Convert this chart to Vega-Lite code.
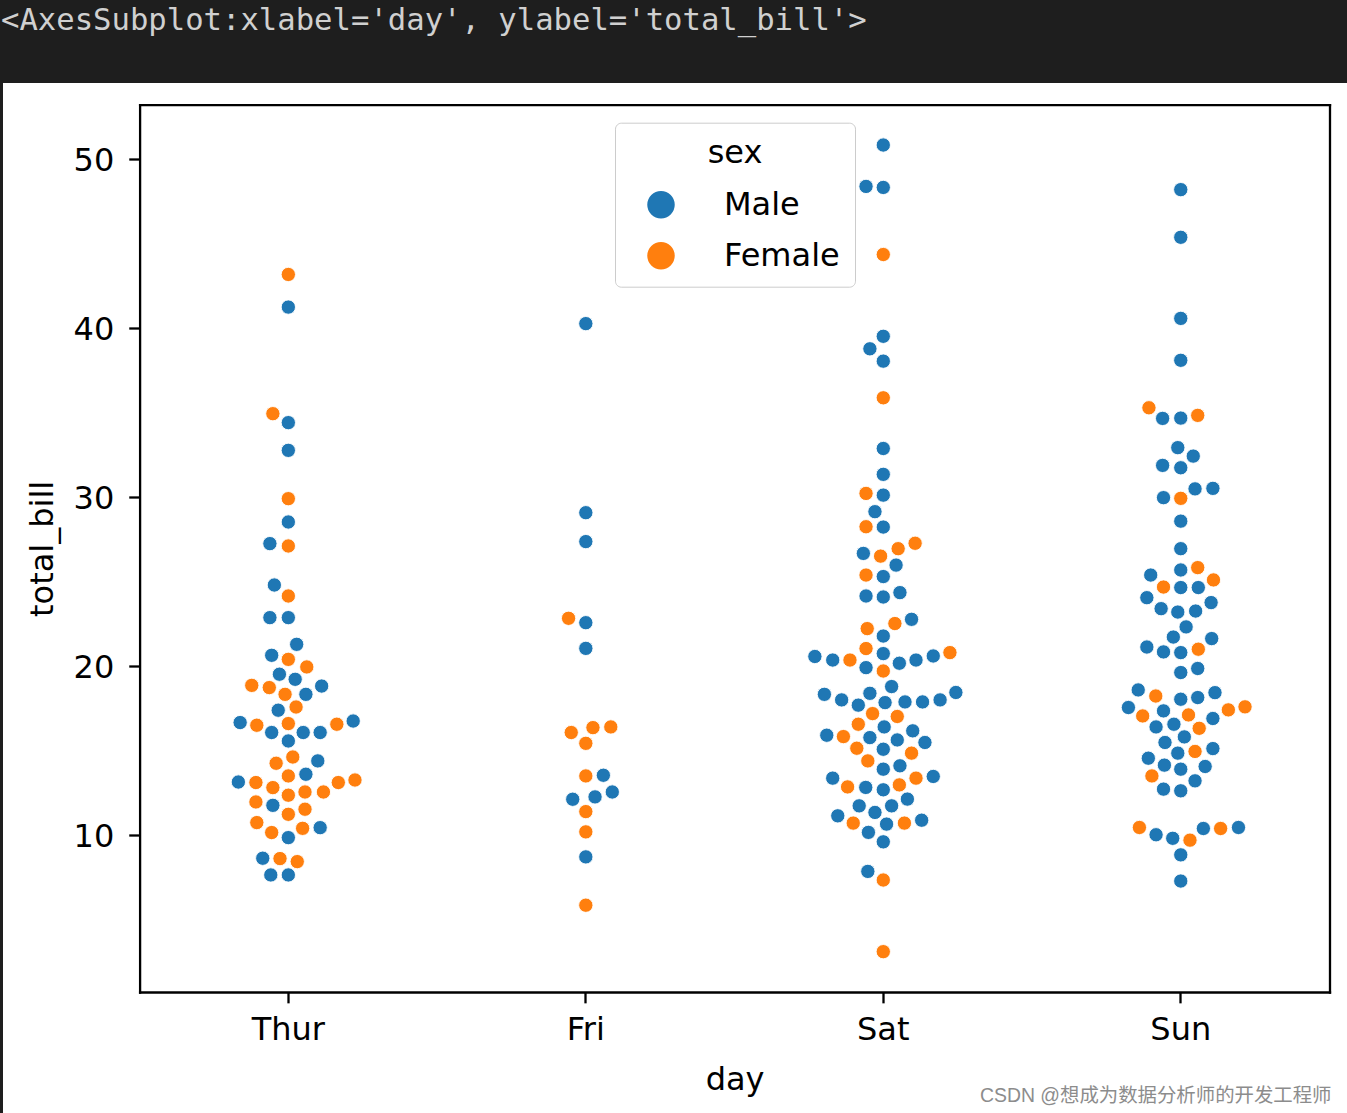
{
  "$schema": "https://vega.github.io/schema/vega-lite/v6.json",
  "width": 1344,
  "height": 1030,
  "autosize": {"type": "none"},
  "padding": {"left": 3, "top": 83, "right": 0, "bottom": 0},
  "background": "#1e1e1e",
  "view": {"fill": "white", "stroke": null},
  "config": {"font": "DejaVu Sans", "axis": {"grid": false}},
  "title": {
    "text": "<AxesSubplot:xlabel='day', ylabel='total_bill'>",
    "anchor": "start", "frame": "group", "orient": "top", "offset": 46, "dx": -2,
    "font": "DejaVu Sans Mono", "fontSize": 30.6, "fontWeight": "normal", "color": "#d0d0d0"
  },
  "data": {"values": [
    {"day":"Thur","sex":"Female","total_bill":43.15,"offset":0},
    {"day":"Thur","sex":"Male","total_bill":41.22,"offset":0},
    {"day":"Thur","sex":"Female","total_bill":34.91,"offset":-0.052},
    {"day":"Thur","sex":"Male","total_bill":34.38,"offset":0},
    {"day":"Thur","sex":"Male","total_bill":32.74,"offset":0},
    {"day":"Thur","sex":"Female","total_bill":29.88,"offset":0},
    {"day":"Thur","sex":"Male","total_bill":28.50,"offset":0},
    {"day":"Thur","sex":"Male","total_bill":27.22,"offset":-0.062},
    {"day":"Thur","sex":"Female","total_bill":27.08,"offset":0},
    {"day":"Thur","sex":"Male","total_bill":24.77,"offset":-0.047},
    {"day":"Thur","sex":"Female","total_bill":24.12,"offset":0},
    {"day":"Thur","sex":"Male","total_bill":22.84,"offset":-0.062},
    {"day":"Thur","sex":"Male","total_bill":22.84,"offset":0},
    {"day":"Thur","sex":"Male","total_bill":21.26,"offset":0.028},
    {"day":"Thur","sex":"Male","total_bill":20.61,"offset":-0.056},
    {"day":"Thur","sex":"Female","total_bill":20.37,"offset":0},
    {"day":"Thur","sex":"Female","total_bill":19.92,"offset":0.062},
    {"day":"Thur","sex":"Male","total_bill":19.49,"offset":-0.030},
    {"day":"Thur","sex":"Male","total_bill":19.19,"offset":0.023},
    {"day":"Thur","sex":"Female","total_bill":18.83,"offset":-0.123},
    {"day":"Thur","sex":"Female","total_bill":18.70,"offset":-0.064},
    {"day":"Thur","sex":"Male","total_bill":18.79,"offset":0.112},
    {"day":"Thur","sex":"Female","total_bill":18.30,"offset":-0.011},
    {"day":"Thur","sex":"Male","total_bill":18.30,"offset":0.059},
    {"day":"Thur","sex":"Female","total_bill":17.55,"offset":0.026},
    {"day":"Thur","sex":"Male","total_bill":17.36,"offset":-0.034},
    {"day":"Thur","sex":"Male","total_bill":16.63,"offset":-0.162},
    {"day":"Thur","sex":"Female","total_bill":16.47,"offset":-0.106},
    {"day":"Thur","sex":"Female","total_bill":16.57,"offset":0},
    {"day":"Thur","sex":"Female","total_bill":16.53,"offset":0.163},
    {"day":"Thur","sex":"Male","total_bill":16.72,"offset":0.218},
    {"day":"Thur","sex":"Male","total_bill":16.04,"offset":-0.056},
    {"day":"Thur","sex":"Male","total_bill":16.04,"offset":0.050},
    {"day":"Thur","sex":"Male","total_bill":16.04,"offset":0.107},
    {"day":"Thur","sex":"Male","total_bill":15.54,"offset":0},
    {"day":"Thur","sex":"Female","total_bill":14.59,"offset":0.015},
    {"day":"Thur","sex":"Female","total_bill":14.22,"offset":-0.041},
    {"day":"Thur","sex":"Male","total_bill":14.36,"offset":0.099},
    {"day":"Thur","sex":"Male","total_bill":13.57,"offset":0.059},
    {"day":"Thur","sex":"Female","total_bill":13.47,"offset":0},
    {"day":"Thur","sex":"Male","total_bill":13.11,"offset":-0.168},
    {"day":"Thur","sex":"Female","total_bill":13.08,"offset":-0.109},
    {"day":"Thur","sex":"Female","total_bill":12.78,"offset":-0.052},
    {"day":"Thur","sex":"Female","total_bill":13.08,"offset":0.168},
    {"day":"Thur","sex":"Female","total_bill":13.23,"offset":0.224},
    {"day":"Thur","sex":"Female","total_bill":12.33,"offset":0},
    {"day":"Thur","sex":"Female","total_bill":12.52,"offset":0.056},
    {"day":"Thur","sex":"Female","total_bill":12.52,"offset":0.118},
    {"day":"Thur","sex":"Female","total_bill":11.93,"offset":-0.109},
    {"day":"Thur","sex":"Male","total_bill":11.73,"offset":-0.052},
    {"day":"Thur","sex":"Female","total_bill":11.20,"offset":0},
    {"day":"Thur","sex":"Female","total_bill":11.50,"offset":0.056},
    {"day":"Thur","sex":"Female","total_bill":10.71,"offset":-0.106},
    {"day":"Thur","sex":"Female","total_bill":10.12,"offset":-0.056},
    {"day":"Thur","sex":"Male","total_bill":9.82,"offset":0},
    {"day":"Thur","sex":"Female","total_bill":10.37,"offset":0.048},
    {"day":"Thur","sex":"Male","total_bill":10.41,"offset":0.107},
    {"day":"Thur","sex":"Male","total_bill":8.60,"offset":-0.086},
    {"day":"Thur","sex":"Female","total_bill":8.58,"offset":-0.028},
    {"day":"Thur","sex":"Female","total_bill":8.40,"offset":0.030},
    {"day":"Thur","sex":"Male","total_bill":7.61,"offset":-0.059},
    {"day":"Thur","sex":"Male","total_bill":7.61,"offset":0},
    {"day":"Fri","sex":"Male","total_bill":40.24,"offset":0},
    {"day":"Fri","sex":"Male","total_bill":29.05,"offset":0},
    {"day":"Fri","sex":"Male","total_bill":27.34,"offset":0},
    {"day":"Fri","sex":"Female","total_bill":22.80,"offset":-0.058},
    {"day":"Fri","sex":"Male","total_bill":22.54,"offset":0},
    {"day":"Fri","sex":"Male","total_bill":21.02,"offset":0},
    {"day":"Fri","sex":"Female","total_bill":16.04,"offset":-0.049},
    {"day":"Fri","sex":"Female","total_bill":16.33,"offset":0.024},
    {"day":"Fri","sex":"Female","total_bill":16.37,"offset":0.084},
    {"day":"Fri","sex":"Female","total_bill":15.40,"offset":0},
    {"day":"Fri","sex":"Female","total_bill":13.47,"offset":0},
    {"day":"Fri","sex":"Male","total_bill":13.51,"offset":0.059},
    {"day":"Fri","sex":"Male","total_bill":12.52,"offset":0.089},
    {"day":"Fri","sex":"Male","total_bill":12.09,"offset":-0.044},
    {"day":"Fri","sex":"Male","total_bill":12.23,"offset":0.031},
    {"day":"Fri","sex":"Female","total_bill":11.36,"offset":0},
    {"day":"Fri","sex":"Female","total_bill":10.16,"offset":0},
    {"day":"Fri","sex":"Male","total_bill":8.68,"offset":0},
    {"day":"Fri","sex":"Female","total_bill":5.82,"offset":0},
    {"day":"Sat","sex":"Male","total_bill":50.81,"offset":0},
    {"day":"Sat","sex":"Male","total_bill":48.36,"offset":-0.058},
    {"day":"Sat","sex":"Male","total_bill":48.30,"offset":0},
    {"day":"Sat","sex":"Female","total_bill":44.33,"offset":0},
    {"day":"Sat","sex":"Male","total_bill":39.49,"offset":0},
    {"day":"Sat","sex":"Male","total_bill":38.75,"offset":-0.045},
    {"day":"Sat","sex":"Male","total_bill":38.02,"offset":0},
    {"day":"Sat","sex":"Female","total_bill":35.85,"offset":0},
    {"day":"Sat","sex":"Male","total_bill":32.85,"offset":0},
    {"day":"Sat","sex":"Male","total_bill":31.32,"offset":0},
    {"day":"Sat","sex":"Female","total_bill":30.19,"offset":-0.058},
    {"day":"Sat","sex":"Male","total_bill":30.09,"offset":0},
    {"day":"Sat","sex":"Male","total_bill":29.11,"offset":-0.028},
    {"day":"Sat","sex":"Female","total_bill":28.22,"offset":-0.058},
    {"day":"Sat","sex":"Male","total_bill":28.20,"offset":0},
    {"day":"Sat","sex":"Female","total_bill":27.24,"offset":0.107},
    {"day":"Sat","sex":"Female","total_bill":26.92,"offset":0.050},
    {"day":"Sat","sex":"Male","total_bill":26.64,"offset":-0.067},
    {"day":"Sat","sex":"Female","total_bill":26.48,"offset":-0.009},
    {"day":"Sat","sex":"Male","total_bill":25.95,"offset":0.043},
    {"day":"Sat","sex":"Female","total_bill":25.36,"offset":-0.058},
    {"day":"Sat","sex":"Male","total_bill":25.27,"offset":0},
    {"day":"Sat","sex":"Male","total_bill":24.12,"offset":-0.058},
    {"day":"Sat","sex":"Male","total_bill":24.06,"offset":0},
    {"day":"Sat","sex":"Male","total_bill":24.32,"offset":0.056},
    {"day":"Sat","sex":"Male","total_bill":22.74,"offset":0.095},
    {"day":"Sat","sex":"Female","total_bill":22.49,"offset":0.039},
    {"day":"Sat","sex":"Female","total_bill":22.19,"offset":-0.054},
    {"day":"Sat","sex":"Male","total_bill":21.75,"offset":0},
    {"day":"Sat","sex":"Female","total_bill":21.01,"offset":-0.058},
    {"day":"Sat","sex":"Male","total_bill":20.71,"offset":0},
    {"day":"Sat","sex":"Male","total_bill":20.54,"offset":-0.230},
    {"day":"Sat","sex":"Male","total_bill":20.33,"offset":-0.170},
    {"day":"Sat","sex":"Female","total_bill":20.33,"offset":-0.112},
    {"day":"Sat","sex":"Male","total_bill":20.14,"offset":0.054},
    {"day":"Sat","sex":"Male","total_bill":20.33,"offset":0.110},
    {"day":"Sat","sex":"Male","total_bill":20.57,"offset":0.168},
    {"day":"Sat","sex":"Female","total_bill":20.77,"offset":0.224},
    {"day":"Sat","sex":"Male","total_bill":19.88,"offset":-0.058},
    {"day":"Sat","sex":"Female","total_bill":19.68,"offset":0},
    {"day":"Sat","sex":"Male","total_bill":18.76,"offset":0.028},
    {"day":"Sat","sex":"Male","total_bill":18.30,"offset":-0.198},
    {"day":"Sat","sex":"Male","total_bill":17.97,"offset":-0.140},
    {"day":"Sat","sex":"Male","total_bill":18.36,"offset":-0.045},
    {"day":"Sat","sex":"Male","total_bill":17.66,"offset":-0.084},
    {"day":"Sat","sex":"Male","total_bill":17.81,"offset":0.006},
    {"day":"Sat","sex":"Male","total_bill":17.85,"offset":0.073},
    {"day":"Sat","sex":"Male","total_bill":17.85,"offset":0.132},
    {"day":"Sat","sex":"Male","total_bill":17.97,"offset":0.191},
    {"day":"Sat","sex":"Male","total_bill":18.41,"offset":0.244},
    {"day":"Sat","sex":"Female","total_bill":17.16,"offset":-0.036},
    {"day":"Sat","sex":"Female","total_bill":16.99,"offset":0.047},
    {"day":"Sat","sex":"Female","total_bill":16.53,"offset":-0.084},
    {"day":"Sat","sex":"Male","total_bill":16.37,"offset":0.003},
    {"day":"Sat","sex":"Male","total_bill":15.88,"offset":-0.190},
    {"day":"Sat","sex":"Female","total_bill":15.80,"offset":-0.134},
    {"day":"Sat","sex":"Male","total_bill":15.74,"offset":-0.045},
    {"day":"Sat","sex":"Male","total_bill":15.60,"offset":0.047},
    {"day":"Sat","sex":"Male","total_bill":16.14,"offset":0.099},
    {"day":"Sat","sex":"Male","total_bill":15.45,"offset":0.140},
    {"day":"Sat","sex":"Female","total_bill":15.11,"offset":-0.089},
    {"day":"Sat","sex":"Male","total_bill":15.05,"offset":0},
    {"day":"Sat","sex":"Female","total_bill":14.82,"offset":0.095},
    {"day":"Sat","sex":"Female","total_bill":14.36,"offset":-0.052},
    {"day":"Sat","sex":"Male","total_bill":13.87,"offset":0},
    {"day":"Sat","sex":"Male","total_bill":14.07,"offset":0.056},
    {"day":"Sat","sex":"Male","total_bill":13.34,"offset":-0.170},
    {"day":"Sat","sex":"Female","total_bill":12.82,"offset":-0.120},
    {"day":"Sat","sex":"Male","total_bill":12.79,"offset":-0.059},
    {"day":"Sat","sex":"Male","total_bill":12.65,"offset":0},
    {"day":"Sat","sex":"Female","total_bill":12.94,"offset":0.054},
    {"day":"Sat","sex":"Female","total_bill":13.34,"offset":0.110},
    {"day":"Sat","sex":"Male","total_bill":13.44,"offset":0.168},
    {"day":"Sat","sex":"Male","total_bill":11.70,"offset":-0.081},
    {"day":"Sat","sex":"Male","total_bill":11.31,"offset":-0.028},
    {"day":"Sat","sex":"Male","total_bill":11.70,"offset":0.028},
    {"day":"Sat","sex":"Male","total_bill":12.10,"offset":0.081},
    {"day":"Sat","sex":"Male","total_bill":11.11,"offset":-0.153},
    {"day":"Sat","sex":"Female","total_bill":10.68,"offset":-0.101},
    {"day":"Sat","sex":"Male","total_bill":10.62,"offset":0.011},
    {"day":"Sat","sex":"Female","total_bill":10.68,"offset":0.071},
    {"day":"Sat","sex":"Male","total_bill":10.85,"offset":0.129},
    {"day":"Sat","sex":"Male","total_bill":10.13,"offset":-0.050},
    {"day":"Sat","sex":"Male","total_bill":9.57,"offset":0},
    {"day":"Sat","sex":"Male","total_bill":7.82,"offset":-0.052},
    {"day":"Sat","sex":"Female","total_bill":7.31,"offset":0},
    {"day":"Sat","sex":"Female","total_bill":3.07,"offset":0},
    {"day":"Sun","sex":"Male","total_bill":48.17,"offset":0},
    {"day":"Sun","sex":"Male","total_bill":45.35,"offset":0},
    {"day":"Sun","sex":"Male","total_bill":40.55,"offset":0},
    {"day":"Sun","sex":"Male","total_bill":38.07,"offset":0},
    {"day":"Sun","sex":"Female","total_bill":35.26,"offset":-0.107},
    {"day":"Sun","sex":"Male","total_bill":34.63,"offset":-0.061},
    {"day":"Sun","sex":"Male","total_bill":34.65,"offset":0},
    {"day":"Sun","sex":"Female","total_bill":34.81,"offset":0.057},
    {"day":"Sun","sex":"Male","total_bill":32.90,"offset":-0.010},
    {"day":"Sun","sex":"Male","total_bill":32.40,"offset":0.042},
    {"day":"Sun","sex":"Male","total_bill":31.85,"offset":-0.061},
    {"day":"Sun","sex":"Male","total_bill":31.71,"offset":0},
    {"day":"Sun","sex":"Male","total_bill":30.46,"offset":0.048},
    {"day":"Sun","sex":"Male","total_bill":30.49,"offset":0.108},
    {"day":"Sun","sex":"Male","total_bill":29.94,"offset":-0.058},
    {"day":"Sun","sex":"Female","total_bill":29.90,"offset":0},
    {"day":"Sun","sex":"Male","total_bill":28.55,"offset":0},
    {"day":"Sun","sex":"Male","total_bill":26.92,"offset":0},
    {"day":"Sun","sex":"Male","total_bill":25.36,"offset":-0.101},
    {"day":"Sun","sex":"Male","total_bill":25.66,"offset":0},
    {"day":"Sun","sex":"Female","total_bill":25.80,"offset":0.057},
    {"day":"Sun","sex":"Female","total_bill":25.07,"offset":0.110},
    {"day":"Sun","sex":"Female","total_bill":24.65,"offset":-0.058},
    {"day":"Sun","sex":"Male","total_bill":24.62,"offset":0},
    {"day":"Sun","sex":"Male","total_bill":24.62,"offset":0.059},
    {"day":"Sun","sex":"Male","total_bill":24.02,"offset":-0.114},
    {"day":"Sun","sex":"Male","total_bill":23.37,"offset":-0.066},
    {"day":"Sun","sex":"Male","total_bill":23.17,"offset":-0.010},
    {"day":"Sun","sex":"Male","total_bill":23.23,"offset":0.050},
    {"day":"Sun","sex":"Male","total_bill":23.73,"offset":0.102},
    {"day":"Sun","sex":"Male","total_bill":22.29,"offset":0.018},
    {"day":"Sun","sex":"Male","total_bill":21.69,"offset":-0.025},
    {"day":"Sun","sex":"Male","total_bill":21.60,"offset":0.104},
    {"day":"Sun","sex":"Male","total_bill":21.10,"offset":-0.114},
    {"day":"Sun","sex":"Male","total_bill":20.81,"offset":-0.058},
    {"day":"Sun","sex":"Male","total_bill":20.77,"offset":0},
    {"day":"Sun","sex":"Female","total_bill":20.97,"offset":0.059},
    {"day":"Sun","sex":"Male","total_bill":19.59,"offset":0},
    {"day":"Sun","sex":"Male","total_bill":19.83,"offset":0.057},
    {"day":"Sun","sex":"Male","total_bill":18.56,"offset":-0.143},
    {"day":"Sun","sex":"Female","total_bill":18.20,"offset":-0.084},
    {"day":"Sun","sex":"Male","total_bill":18.01,"offset":0},
    {"day":"Sun","sex":"Male","total_bill":18.11,"offset":0.057},
    {"day":"Sun","sex":"Male","total_bill":18.40,"offset":0.115},
    {"day":"Sun","sex":"Male","total_bill":17.52,"offset":-0.176},
    {"day":"Sun","sex":"Female","total_bill":17.02,"offset":-0.128},
    {"day":"Sun","sex":"Male","total_bill":17.32,"offset":-0.058},
    {"day":"Sun","sex":"Female","total_bill":17.08,"offset":0.026},
    {"day":"Sun","sex":"Male","total_bill":16.87,"offset":0.108},
    {"day":"Sun","sex":"Female","total_bill":17.38,"offset":0.160},
    {"day":"Sun","sex":"Female","total_bill":17.56,"offset":0.216},
    {"day":"Sun","sex":"Male","total_bill":16.37,"offset":-0.083},
    {"day":"Sun","sex":"Male","total_bill":16.53,"offset":-0.023},
    {"day":"Sun","sex":"Female","total_bill":16.29,"offset":0.062},
    {"day":"Sun","sex":"Male","total_bill":15.45,"offset":-0.053},
    {"day":"Sun","sex":"Male","total_bill":15.78,"offset":0.012},
    {"day":"Sun","sex":"Male","total_bill":14.82,"offset":-0.010},
    {"day":"Sun","sex":"Female","total_bill":14.92,"offset":0.048},
    {"day":"Sun","sex":"Male","total_bill":15.09,"offset":0.108},
    {"day":"Sun","sex":"Male","total_bill":14.52,"offset":-0.109},
    {"day":"Sun","sex":"Male","total_bill":14.11,"offset":-0.055},
    {"day":"Sun","sex":"Male","total_bill":13.87,"offset":0},
    {"day":"Sun","sex":"Male","total_bill":14.03,"offset":0.082},
    {"day":"Sun","sex":"Female","total_bill":13.47,"offset":-0.097},
    {"day":"Sun","sex":"Male","total_bill":13.18,"offset":0.048},
    {"day":"Sun","sex":"Male","total_bill":12.69,"offset":-0.058},
    {"day":"Sun","sex":"Male","total_bill":12.59,"offset":0},
    {"day":"Sun","sex":"Female","total_bill":10.42,"offset":-0.139},
    {"day":"Sun","sex":"Male","total_bill":9.99,"offset":-0.083},
    {"day":"Sun","sex":"Male","total_bill":9.78,"offset":-0.027},
    {"day":"Sun","sex":"Female","total_bill":9.67,"offset":0.031},
    {"day":"Sun","sex":"Male","total_bill":10.36,"offset":0.076},
    {"day":"Sun","sex":"Female","total_bill":10.36,"offset":0.134},
    {"day":"Sun","sex":"Male","total_bill":10.42,"offset":0.194},
    {"day":"Sun","sex":"Male","total_bill":8.80,"offset":0},
    {"day":"Sun","sex":"Male","total_bill":7.25,"offset":0}
  ]},
  "layer": [
    {
      "mark": {"type": "circle", "size": 205, "opacity": 1, "stroke": "white", "strokeWidth": 0.9},
      "encoding": {
        "x": {
          "field": "day", "type": "nominal", "sort": ["Thur", "Fri", "Sat", "Sun"],
          "scale": {"type": "band", "domain": ["Thur", "Fri", "Sat", "Sun"], "range": [136.6, 1326.5], "paddingInner": 0, "paddingOuter": 0},
          "axis": {
            "orient": "bottom", "offset": -121, "title": "day", "grid": false,
            "domain": true, "domainColor": "black", "domainWidth": 2.3, "domainCap": "square",
            "ticks": true, "tickColor": "black", "tickWidth": 2.3, "tickSize": 10.85,
            "labelFont": "DejaVu Sans", "labelFontSize": 32, "labelColor": "black", "labelAngle": 0, "labelPadding": 12,
            "titleFont": "DejaVu Sans", "titleFontSize": 32, "titleFontWeight": "normal", "titleColor": "black", "titlePadding": 19
          }
        },
        "xOffset": {"field": "offset", "type": "quantitative", "scale": {"domain": [-0.5, 0.5]}},
        "y": {
          "field": "total_bill", "type": "quantitative",
          "scale": {"domain": [0.683, 53.197], "range": [909, 21.7], "nice": false, "zero": false},
          "axis": {
            "orient": "left", "offset": -136.6, "values": [10, 20, 30, 40, 50], "title": "total_bill", "grid": false,
            "domain": true, "domainColor": "black", "domainWidth": 2.3, "domainCap": "square",
            "ticks": true, "tickColor": "black", "tickWidth": 2.3, "tickSize": 10.85,
            "labelFont": "DejaVu Sans", "labelFontSize": 32, "labelColor": "black", "labelPadding": 15, "labelOffset": 2,
            "titleFont": "DejaVu Sans", "titleFontSize": 32, "titleFontWeight": "normal", "titleColor": "black", "titlePadding": 14
          }
        },
        "color": {
          "field": "sex", "type": "nominal",
          "scale": {"domain": ["Male", "Female"], "range": ["#1f77b4", "#ff7f0e"]},
          "legend": {
            "orient": "none", "legendX": 612, "legendY": 39.7, "title": "sex",
            "titleFont": "DejaVu Sans", "titleFontSize": 32, "titleFontWeight": "normal", "titleColor": "black",
            "titleAnchor": "middle", "titlePadding": 19,
            "labelFont": "DejaVu Sans", "labelFontSize": 32, "labelColor": "black", "labelOffset": 47,
            "symbolType": "circle", "symbolSize": 755, "symbolStrokeWidth": 0, "symbolOpacity": 1, "symbolOffset": 15,
            "rowPadding": 19, "padding": 15, "fillColor": "white", "strokeColor": "#cccccc", "cornerRadius": 6
          }
        },
        "order": {"field": "total_bill", "sort": "ascending"}
      }
    },
    {
      "transform": [{"filter": "datum.total_bill > 50"}],
      "mark": {"type": "circle", "opacity": 0},
      "encoding": {
        "x": {
          "field": "day", "type": "nominal",
          "axis": {"orient": "top", "offset": -21.7, "title": null, "labels": false, "ticks": false, "grid": false,
                   "domain": true, "domainColor": "black", "domainWidth": 2.3, "domainCap": "square"}
        },
        "y": {
          "field": "total_bill", "type": "quantitative",
          "axis": {"orient": "right", "offset": -17.5, "labels": false, "ticks": false, "grid": false,
                   "domain": true, "domainColor": "black", "domainWidth": 2.3, "domainCap": "square",
                   "title": "CSDN @想成为数据分析师的开发工程师", "titleAngle": 0, "titleX": 1.5, "titleY": 1018,
                   "titleAlign": "right", "titleBaseline": "alphabetic",
                   "titleFont": "Liberation Sans, Noto Sans CJK SC", "titleFontSize": 19.4, "titleFontWeight": "normal", "titleColor": "#8c8c8c"}
        }
      }
    }
  ],
  "resolve": {"axis": {"x": "independent", "y": "independent"}}
}
